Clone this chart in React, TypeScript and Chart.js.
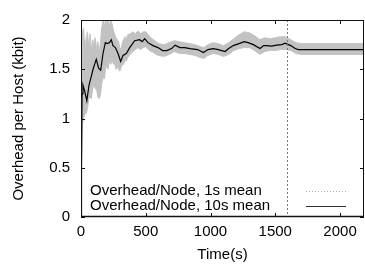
import React, { useEffect, useRef } from "react";
import { Chart, registerables } from "chart.js";

Chart.register(...registerables);

// ---- data ----
const seriesLabels = ["Overhead/Node, 1s mean", "Overhead/Node, 10s mean"];
const xTitle = "Time(s)";
const yTitle = "Overhead per Host (kbit)";
const xTickValues = [0, 500, 1000, 1500, 2000];
const yTickValues = [0, 0.5, 1, 1.5, 2];
const xMax = 2185;
const markerTime = 1592;

// 1s mean shown as a band (upper / lower envelope)
const bandT = [0, 6, 12, 20, 30, 40, 50, 60, 70, 80, 90, 100, 110, 120, 130, 140, 150, 160, 170, 180, 190, 200, 210, 220, 230, 240, 250, 260, 270, 280, 290, 300, 310, 320, 330, 340, 350, 360, 380, 400, 420, 440, 460, 480, 500, 520, 540, 560, 580, 600, 640, 680, 720, 760, 800, 840, 880, 920, 950, 980, 1020, 1060, 1100, 1140, 1180, 1220, 1260, 1300, 1340, 1380, 1420, 1460, 1500, 1540, 1580, 1620, 1660, 1700, 1800, 1900, 2000, 2100, 2185];
const bandHi = [0, 1.5, 1.88, 1.92, 1.7, 1.82, 1.88, 1.72, 1.86, 1.68, 1.8, 1.74, 1.82, 1.7, 1.78, 1.68, 1.76, 1.92, 2.0, 1.94, 2.0, 1.96, 2.0, 1.94, 2.0, 1.96, 1.9, 1.85, 1.82, 1.8, 1.78, 1.72, 1.7, 1.78, 1.8, 1.83, 1.8, 1.85, 1.86, 1.88, 1.86, 1.89, 1.86, 1.88, 1.88, 1.85, 1.82, 1.8, 1.78, 1.76, 1.75, 1.77, 1.79, 1.78, 1.77, 1.76, 1.75, 1.73, 1.72, 1.75, 1.77, 1.76, 1.74, 1.77, 1.81, 1.85, 1.88, 1.87, 1.84, 1.8, 1.82, 1.81, 1.82, 1.83, 1.83, 1.8, 1.77, 1.76, 1.76, 1.76, 1.76, 1.76, 1.76];
const bandLo = [0, 0.5, 0.95, 1.0, 1.05, 1.05, 1.1, 1.2, 1.22, 1.2, 1.3, 1.35, 1.3, 1.3, 1.22, 1.2, 1.24, 1.35, 1.42, 1.4, 1.5, 1.55, 1.5, 1.6, 1.55, 1.6, 1.55, 1.56, 1.5, 1.52, 1.5, 1.48, 1.52, 1.55, 1.55, 1.6, 1.58, 1.62, 1.65, 1.68, 1.7, 1.72, 1.7, 1.72, 1.73, 1.7, 1.68, 1.67, 1.65, 1.64, 1.63, 1.65, 1.68, 1.66, 1.66, 1.65, 1.64, 1.62, 1.61, 1.64, 1.66, 1.65, 1.63, 1.65, 1.69, 1.71, 1.72, 1.72, 1.69, 1.65, 1.68, 1.69, 1.69, 1.7, 1.7, 1.69, 1.66, 1.65, 1.65, 1.65, 1.65, 1.65, 1.65];

// 10s mean
const meanT = [0, 8, 15, 28, 45, 62, 80, 93, 105, 118, 136, 152, 170, 188, 205, 221, 234, 247, 265, 286, 306, 324, 350, 376, 414, 453, 472, 492, 517, 556, 595, 630, 662, 700, 726, 764, 800, 842, 900, 945, 980, 1022, 1060, 1112, 1140, 1176, 1220, 1260, 1290, 1331, 1382, 1410, 1434, 1470, 1511, 1550, 1575, 1601, 1620, 1653, 1678, 1800, 2000, 2185];
const meanV = [0, 1.25, 1.34, 1.28, 1.18, 1.34, 1.43, 1.5, 1.55, 1.6, 1.51, 1.49, 1.66, 1.77, 1.76, 1.77, 1.8, 1.74, 1.72, 1.66, 1.58, 1.64, 1.66, 1.72, 1.79, 1.8, 1.78, 1.81, 1.77, 1.74, 1.72, 1.69, 1.69, 1.71, 1.745, 1.72, 1.72, 1.71, 1.7, 1.67, 1.7, 1.71, 1.7, 1.68, 1.71, 1.74, 1.76, 1.78, 1.77, 1.75, 1.71, 1.74, 1.74, 1.735, 1.745, 1.75, 1.765, 1.75, 1.74, 1.71, 1.7, 1.7, 1.7, 1.7];

const FONT = "'Liberation Sans', Arial, Helvetica, sans-serif";

const framePlugin = {
  id: "gnuframe",
  afterDraw(chart: any) {
    const { ctx, chartArea: a, scales } = chart;
    const xs = scales.x;
    const ys = scales.y;
    ctx.save();
    // dashed marker line
    const mx = xs.getPixelForValue(markerTime);
    ctx.strokeStyle = "#777";
    ctx.lineWidth = 1;
    ctx.setLineDash([2, 2]);
    ctx.beginPath();
    ctx.moveTo(Math.round(mx) + 0.5, a.top);
    ctx.lineTo(Math.round(mx) + 0.5, a.bottom);
    ctx.stroke();
    ctx.setLineDash([]);
    // frame
    ctx.strokeStyle = "#111";
    ctx.lineWidth = 1;
    ctx.strokeRect(a.left + 0.5, a.top + 0.5, a.right - a.left - 1, a.bottom - a.top - 1);
    ctx.lineWidth = 1.5;
    ctx.beginPath();
    ctx.moveTo(a.left, a.bottom - 0.5);
    ctx.lineTo(a.right, a.bottom - 0.5);
    ctx.stroke();
    // inward ticks
    ctx.lineWidth = 1;
    const tl = 4;
    xTickValues.forEach((v) => {
      const px = Math.round(xs.getPixelForValue(v)) + 0.5;
      ctx.beginPath();
      ctx.moveTo(px, a.bottom);
      ctx.lineTo(px, a.bottom - tl);
      ctx.moveTo(px, a.top);
      ctx.lineTo(px, a.top + tl);
      ctx.stroke();
    });
    yTickValues.forEach((v) => {
      const py = Math.round(ys.getPixelForValue(v)) + 0.5;
      ctx.beginPath();
      ctx.moveTo(a.left, py);
      ctx.lineTo(a.left + tl, py);
      ctx.moveTo(a.right, py);
      ctx.lineTo(a.right - tl, py);
      ctx.stroke();
    });
    // legend (gnuplot style: text left, sample right)
    ctx.font = `15px ${FONT}`;
    ctx.fillStyle = "#000";
    ctx.textBaseline = "middle";
    ctx.textAlign = "left";
    const lx = a.left + 9;
    const rows = [a.bottom - 26, a.bottom - 11];
    ctx.fillText(seriesLabels[0], lx, rows[0]);
    ctx.fillText(seriesLabels[1], lx, rows[1]);
    const sx0 = a.right - 58;
    const sx1 = a.right - 18;
    ctx.strokeStyle = "#aaa";
    ctx.setLineDash([1, 2]);
    ctx.beginPath();
    ctx.moveTo(sx0, Math.round(rows[0]) + 0.5);
    ctx.lineTo(sx1, Math.round(rows[0]) + 0.5);
    ctx.stroke();
    ctx.setLineDash([]);
    ctx.strokeStyle = "#333";
    ctx.lineWidth = 1.2;
    ctx.beginPath();
    ctx.moveTo(sx0, Math.round(rows[1]) + 0.5);
    ctx.lineTo(sx1, Math.round(rows[1]) + 0.5);
    ctx.stroke();
    ctx.restore();
  },
};

export default function App() {
  const ref = useRef<HTMLCanvasElement | null>(null);
  useEffect(() => {
    if (!ref.current) return;
    const hi = bandT.map((t, i) => ({ x: t, y: bandHi[i] }));
    const lo = bandT.map((t, i) => ({ x: t, y: bandLo[i] }));
    const mean = meanT.map((t, i) => ({ x: t, y: meanV[i] }));
    const chart = new Chart(ref.current, {
      type: "line",
      data: {
        datasets: [
          {
            label: seriesLabels[0] + " (upper)",
            data: hi,
            borderColor: "#c2c2c2",
            borderWidth: 1,
            pointRadius: 0,
            fill: false,
            tension: 0,
            order: 2,
          },
          {
            label: seriesLabels[0],
            data: lo,
            borderColor: "#c2c2c2",
            backgroundColor: "#c2c2c2",
            borderWidth: 1,
            pointRadius: 0,
            fill: "-1",
            tension: 0,
            order: 2,
          },
          {
            label: seriesLabels[1],
            data: mean,
            borderColor: "#000",
            borderWidth: 1.2,
            pointRadius: 0,
            fill: false,
            tension: 0,
            order: 0,
          },
        ],
      },
      options: {
        responsive: false,
        animation: false,
        parsing: false as any,
        layout: { padding: { top: 9, right: 1, left: 0, bottom: 0 } },
        plugins: { legend: { display: false }, tooltip: { enabled: false } },
        scales: {
          x: {
            type: "linear",
            min: 0,
            max: xMax,
            afterBuildTicks: (s: any) => {
              s.ticks = xTickValues.map((v) => ({ value: v }));
            },
            afterFit: (s: any) => {
              s.height = 51;
            },
            grid: { display: false, drawTicks: false },
            border: { display: false },
            ticks: {
              color: "#000",
              padding: 6,
              maxRotation: 0,
              font: { family: FONT, size: 15 },
              callback: (v: any) => String(v),
            },
            title: {
              display: true,
              text: xTitle,
              color: "#000",
              font: { family: FONT, size: 15 },
              padding: { top: 0, bottom: 4 },
            },
          },
          y: {
            type: "linear",
            min: 0,
            max: 2,
            afterBuildTicks: (s: any) => {
              s.ticks = yTickValues.map((v) => ({ value: v }));
            },
            afterFit: (s: any) => {
              s.width = 81;
            },
            grid: { display: false, drawTicks: false },
            border: { display: false },
            ticks: {
              color: "#000",
              padding: 11,
              font: { family: FONT, size: 15 },
              callback: (v: any) => String(v),
            },
            title: {
              display: true,
              text: yTitle,
              color: "#000",
              font: { family: FONT, size: 15 },
              padding: { top: 10, bottom: 0 },
            },
          },
        },
      },
      plugins: [framePlugin],
    });
    return () => chart.destroy();
  }, []);
  return (
    <div style={{ position: "absolute", left: 0, top: 0, width: 365, height: 268, background: "#fff" }}>
      <canvas ref={ref} width={365} height={268} style={{ display: "block" }} />
    </div>
  );
}
